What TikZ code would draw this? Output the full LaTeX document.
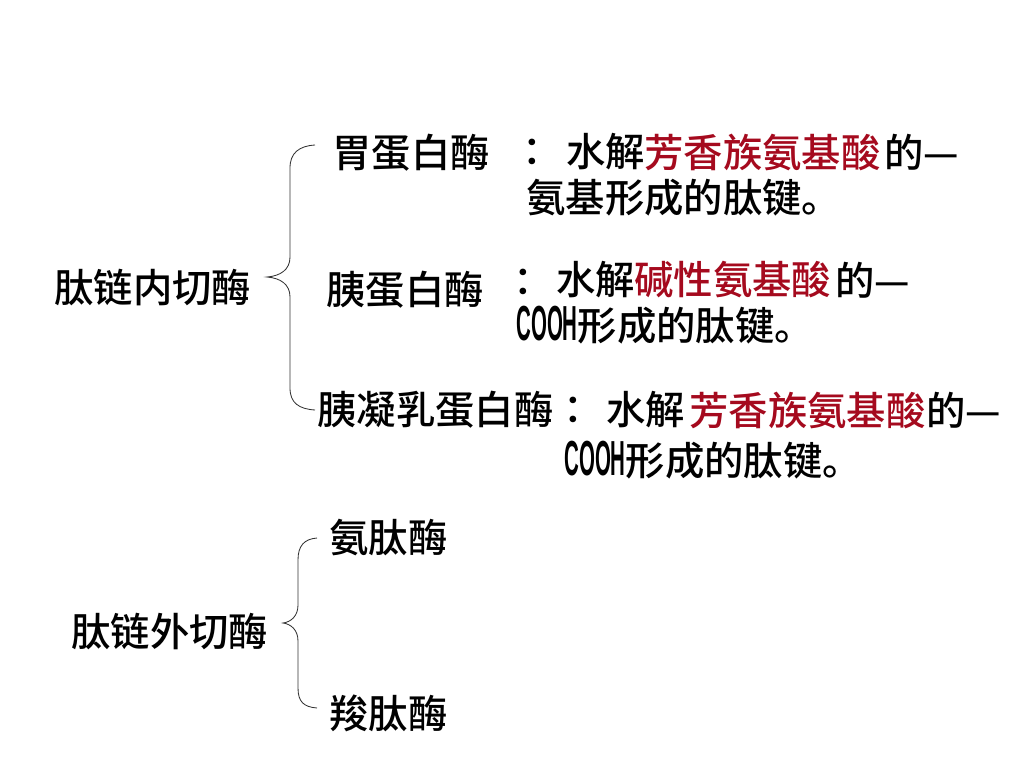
\documentclass[tikz,border=0pt]{standalone}
\usepackage{fontspec}
\newfontfamily\cjk[BoldFont={Noto Sans CJK SC Medium}]{Noto Sans CJK SC}
\newfontfamily\latin{Liberation Sans}
\definecolor{acidred}{RGB}{165, 10, 30}
\newcommand{\cooh}{{\latin\bfseries\scalebox{0.52}[1.25]{COOH}}}
\usetikzlibrary{positioning}

\begin{document}
\begin{tikzpicture}[x=0.025cm, y=-0.025cm,
	txt/.style={anchor=west, inner sep=0pt, font=\cjk\bfseries\fontsize{28}{33}\selectfont},
	red/.style={txt, text=acidred},
	brace/.style={draw=black!80, line width=0.6pt}]
	\useasboundingbox (0,0) rectangle (1024,768);
	% Endopeptidases
	\node[txt] (endo) at (54,288) {肽链内切酶};
	% pepsin
	\node[txt] (pepsin) at (332,153) {胃蛋白酶};
	\node[txt] (pepsinc) at (522.5,152) {：};
	\node[txt] (pepsinw) at (566,152) {水解};
	\node[red] (pepsinr) at (644,152) {芳香族氨基酸};
	\node[txt] (pepsind) at (884,152) {的—};
	\node[txt] (pepsinb) at (526,198) {氨基形成的肽键。};
	% trypsin
	\node[txt] (trypsin) at (326,290) {胰蛋白酶};
	\node[txt] (trypsinc) at (513.5,282) {：};
	\node[txt] (trypsinw) at (556,280) {水解};
	\node[red] (trypsinr) at (634,280) {碱性氨基酸};
	\node[txt] (trypsind) at (835,280) {的—};
	\node[txt] (trypsinb) at (516,325) {\cooh 形成的肽键。};
	% chymotrypsin
	\node[txt] (chymo) at (317,410) {胰凝乳蛋白酶};
	\node[txt] (chymoc) at (563.5,410) {：};
	\node[txt] (chymow) at (606,410) {水解};
	\node[red] (chymor) at (689,410) {芳香族氨基酸};
	\node[txt] (chymod) at (926,410) {的—};
	\node[txt] (chymob) at (564,460) {\cooh 形成的肽键。};
	% Exopeptidases
	\node[txt] (exo) at (71,632) {肽链外切酶};
	\node[txt] (amino) at (329,538) {氨肽酶};
	\node[txt] (carboxy) at (329,713) {羧肽酶};
	% Braces
	\coordinate (bAtop) at (315,145);
	\coordinate (bAtip) at (267,277);
	\coordinate (bAbot) at (315,410);
	\coordinate (bBtop) at (317,538);
	\coordinate (bBtip) at (283,623);
	\coordinate (bBbot) at (317,708);
	\draw[brace] (bAtop) .. controls (299,146) and (290,153) .. (290,168) -- (290,257)
		.. controls (290,270) and (280,276) .. (bAtip)
		.. controls (280,278) and (290,284) .. (290,297) -- (290,388)
		.. controls (290,403) and (299,409) .. (bAbot);
	\draw[brace] (bBtop) .. controls (304,539) and (298,546) .. (298,560) -- (298,605)
		.. controls (298,616) and (291,622) .. (bBtip)
		.. controls (291,624) and (298,630) .. (298,641) -- (298,688)
		.. controls (298,702) and (304,707) .. (bBbot);
\end{tikzpicture}
\end{document}
